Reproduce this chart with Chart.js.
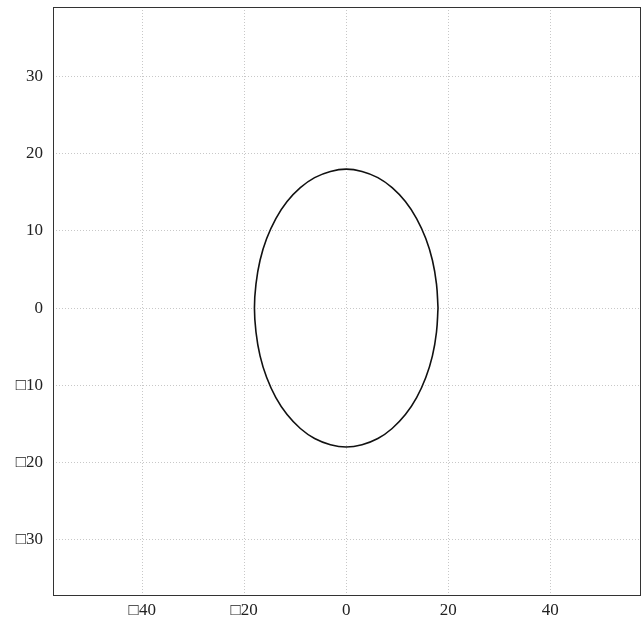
<!DOCTYPE html>
<html>
<head>
  <meta charset="UTF-8">
  <title>Ellipse</title>
  <script src="https://cdn.jsdelivr.net/npm/chart.js"></script>
  <style>
    body { margin: 0; background: #fff; }
    #wrap { width: 641px; height: 629px; }
  </style>
</head>
<body>
  <div id="wrap"><canvas id="chart"></canvas></div>
  <script>
    // points (one every ~10 degrees)
    const ellipseX = [18, 17.7, 16.9, 15.6, 13.8, 11.6, 9, 6.2, 3.1, 0,
      -3.1, -6.2, -9, -11.6, -13.8, -15.6, -16.9, -17.7, -18,
      -17.7, -16.9, -15.6, -13.8, -11.6, -9, -6.2, -3.1, 0,
      3.1, 6.2, 9, 11.6, 13.8, 15.6, 16.9, 17.7, 18];
    const ellipseY = [0, 3.1, 6.2, 9, 11.6, 13.8, 15.6, 16.9, 17.7, 18,
      17.7, 16.9, 15.6, 13.8, 11.6, 9, 6.2, 3.1, 0,
      -3.1, -6.2, -9, -11.6, -13.8, -15.6, -16.9, -17.7, -18,
      -17.7, -16.9, -15.6, -13.8, -11.6, -9, -6.2, -3.1, 0];
    const xTicks = [-40, -20, 0, 20, 40];
    const yTicks = [-30, -20, -10, 0, 10, 20, 30];

    const pts = ellipseX.map((x, i) => ({ x: x, y: ellipseY[i] }));
    const lbl = v => v < 0 ? '\u25A1' + Math.abs(v) : String(v);

    // frame round the plot area
    const frame = {
      id: 'frame',
      afterDraw(chart) {
        const a = chart.chartArea, c = chart.ctx;
        c.save();
        c.strokeStyle = '#333';
        c.lineWidth = 1;
        c.strokeRect(a.left + 0.5, a.top + 0.5, a.right - a.left - 1, a.bottom - a.top - 1);
        c.restore();
      }
    };

    const font = { family: '"Liberation Serif", serif', size: 17 };
    const grid = { color: '#c8c8c8', lineWidth: 1, drawTicks: false };

    new Chart(document.getElementById('chart'), {
      type: 'scatter',
      data: {
        datasets: [{
          data: pts,
          showLine: true,
          borderColor: '#111',
          borderWidth: 1.6,
          pointRadius: 0,
          tension: 0.4,
          fill: false
        }]
      },
      options: {
        responsive: true,
        maintainAspectRatio: false,
        animation: false,
        layout: { padding: { top: 7, right: 0, left: 0, bottom: 0 } },
        plugins: { legend: { display: false }, tooltip: { enabled: false } },
        scales: {
          x: {
            min: -57.5, max: 57.8,
            afterBuildTicks: s => { s.ticks = xTicks.map(v => ({ value: v })); },
            afterFit: s => { s.height = 33; s.paddingLeft = 0; s.paddingRight = 0; },
            border: { display: false, dash: [1, 2] },
            grid: grid,
            ticks: { color: '#222', font: font, padding: 4, maxRotation: 0, callback: lbl }
          },
          y: {
            min: -37.3, max: 39,
            afterBuildTicks: s => { s.ticks = yTicks.map(v => ({ value: v })); },
            afterFit: s => { s.width = 53; s.paddingTop = 0; s.paddingBottom = 0; },
            border: { display: false, dash: [1, 2] },
            grid: grid,
            ticks: { color: '#222', font: font, padding: 10, callback: lbl }
          }
        }
      },
      plugins: [frame]
    });
  </script>
</body>
</html>
